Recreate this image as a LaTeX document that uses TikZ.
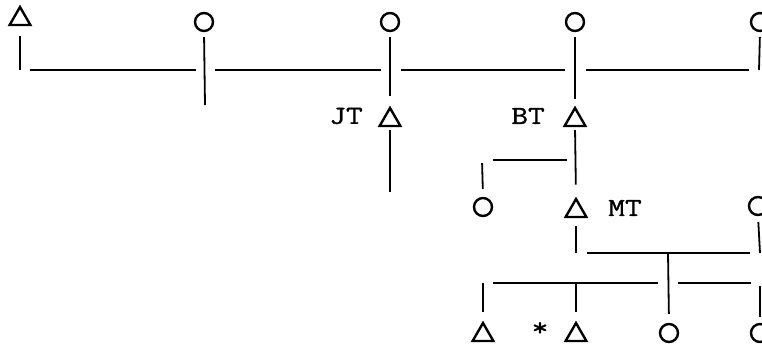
\documentclass[tikz,border=0pt]{standalone}
\usepackage{fontspec}
\newfontfamily\kinfont{Latin Modern Mono}[FakeStretch=1.25, FakeBold=1.2]
\usetikzlibrary{shapes.geometric, positioning}

\begin{document}
\begin{tikzpicture}[x=1pt, y=-1pt, font=\kinfont\fontsize{26}{30}\selectfont,
    male/.style={draw, regular polygon, regular polygon sides=3, minimum size=24pt, inner sep=0pt, line width=2.4pt},
    female/.style={draw, circle, minimum size=18pt, inner sep=0pt, line width=2.4pt},
    kin/.style={line width=1.8pt},
    lab/.style={inner sep=0pt}]
    \useasboundingbox (0,0) rectangle (762,346);

    % First generation
    \node[male] (m1) at (20,19) {};
    \node[female] (f1) at (204,22) {};
    \node[female] (f2) at (390,22) {};
    \node[female] (f3) at (575,22) {};
    \node[female] (f4) at (760,22) {};

    % Sibling line
    \coordinate (p1) at (20,70);
    \coordinate (p2) at (205,70);
    \coordinate (p3) at (390,70);
    \coordinate (p4) at (575,70);
    \coordinate (p5) at (759,70);
    \coordinate (q2) at (205,105);
    \draw[kin, shorten <=10pt] (m1.south) -- (p1);
    \draw[kin, shorten <=5pt] (f1.south) -- (q2);
    \draw[kin, shorten <=5pt] (f4.south) -- (p5);
    \draw[kin, shorten <=10pt, shorten >=9pt] (p1) -- (p2);
    \draw[kin, shorten <=10pt, shorten >=9pt] (p2) -- (p3);
    \draw[kin, shorten <=11pt, shorten >=10pt] (p3) -- (p4);
    \draw[kin, shorten <=11pt, shorten >=10pt] (p4) -- (p5);

    % Second generation
    \node[male] (jt) at (390,120) {};
    \node[male] (bt) at (575,120) {};
    \node[lab] (jtl) at (346,116) {JT};
    \node[lab] (btl) at (528,116) {BT};
    \draw[kin, shorten <=5pt, shorten >=10pt] (f2.south) -- (jt.north);
    \draw[kin, shorten <=5pt, shorten >=7pt] (f3.south) -- (bt.north);
    \coordinate (q3) at (390,192);
    \draw[kin, shorten <=3pt] (jt.south) -- (q3);

    % Third generation
    \node[female] (f5) at (483,207) {};
    \node[male] (mt) at (576,211) {};
    \node[female] (f6) at (758,206) {};
    \node[lab] (mtl) at (625,208) {MT};
    \draw[kin, shorten <=3pt, shorten >=12pt] (bt.south) -- (mt.north);
    \coordinate (r1) at (482,160);
    \coordinate (r2) at (575,160);
    \draw[kin, shorten <=11pt, shorten >=8pt] (r1) -- (r2);
    \draw[kin, shorten <=3pt, shorten >=8pt] (r1) -- (f5.north);

    % Marriage line
    \coordinate (u1) at (576,253);
    \coordinate (u2) at (668,253);
    \coordinate (u3) at (760,253);
    \draw[kin, shorten <=8pt] (mt.south) -- (u1);
    \draw[kin, shorten <=6pt] (f6.south) -- (u3);
    \draw[kin, shorten <=11pt, shorten >=10pt] (u1) -- (u3);

    % Fourth generation
    \node[male] (m2) at (483,335) {};
    \node[male] (m3) at (576,335) {};
    \node[female] (f7) at (669,333) {};
    \node[female] (f8) at (760,333) {};
    \node[lab] (star) at (540,329) {*};
    \coordinate (v1) at (483,283);
    \coordinate (v2) at (576,283);
    \coordinate (v3) at (668,283);
    \coordinate (v4) at (760,283);
    \draw[kin, shorten <=10pt, shorten >=10pt] (v1) -- (v3);
    \draw[kin, shorten <=10pt, shorten >=9pt] (v3) -- (v4);
    \draw[kin, shorten >=9pt] (u2) -- (f7.north);
    \draw[kin, shorten >=9pt] (v1) -- (m2.north);
    \draw[kin, shorten >=9pt] (v2) -- (m3.north);
    \draw[kin, shorten <=3pt, shorten >=6pt] (v4) -- (f8.north);
\end{tikzpicture}
\end{document}
